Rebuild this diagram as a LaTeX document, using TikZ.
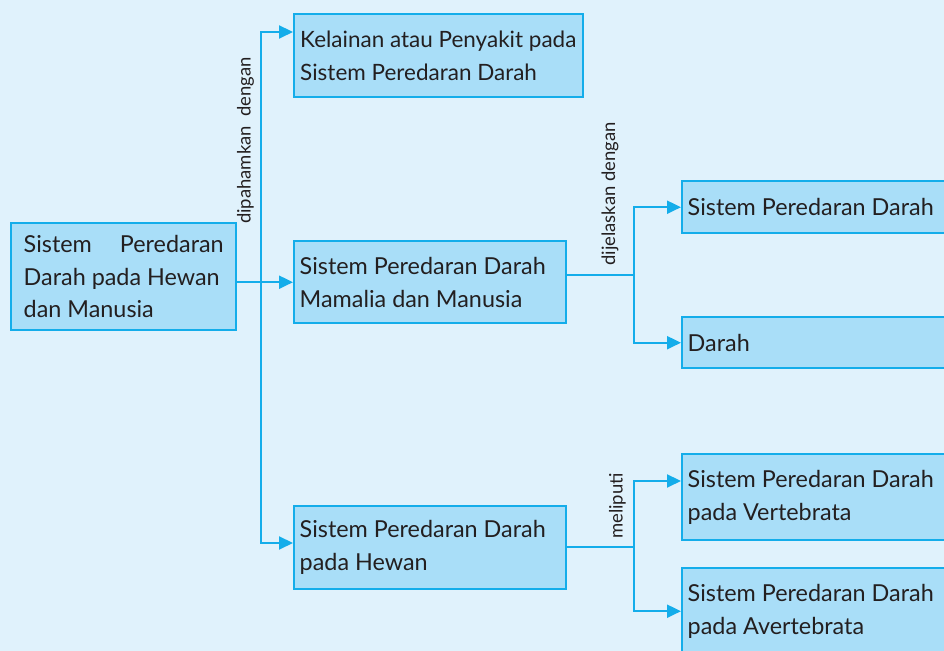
\documentclass[tikz,border=0pt]{standalone}
\usepackage{fontspec}
\setmainfont{Lato}
\usepackage{tikz}
\usetikzlibrary{arrows.meta, calc, positioning}
\usepackage{xcolor}
\definecolor{Bg}     {HTML}{E0F2FC}
\definecolor{Cyan}   {HTML}{14ADEA}
\definecolor{CyanF}  {HTML}{A9DEF8}
\definecolor{Ink}    {HTML}{231F20}
\tikzset{
  blk/.style args={#1/#2}{
    rectangle, anchor=north west,
    draw=Cyan, fill=CyanF, text=Ink,
    font=\fontsize{13.3}{18.6}\selectfont, align=flush left,
    inner xsep=0.11cm, inner ysep=0pt,
    minimum width=#1cm, minimum height=#2cm,
    text width=#1cm-0.22cm,
    line width=1.4pt,
  },
  arr/.style={
    -{Triangle[length=0.28cm,width=0.26cm]},
    line width=1.2pt, color=Cyan,
  },
  lnk/.style={
    line width=1.2pt, color=Cyan,
  },
  lbl/.style={
    font=\fontsize{10.5}{12}\selectfont, text=Ink,
    inner sep=0pt, rotate=90,
  },
}
\begin{document}
\begin{tikzpicture}[x=0.02cm,y=-0.02cm]
    \useasboundingbox (0,0) rectangle (944,651);
    \clip (0,0) rectangle (944,651);
    \fill[Bg] (0,0) rectangle (944,651);
    % boxes
    \node[blk=4.5/2.14, inner xsep=0.25cm, text width=4.0cm] (root) at (10,222)
        {Sistem\hfill Peredaran\\Darah pada Hewan\\dan Manusia};
    \node[blk=5.78/1.66, inner xsep=0.12cm, text width=5.54cm,
          font=\fontsize{12.8}{18.6}\selectfont] (kel) at (293,13)
        {\mbox{Kelainan atau Penyakit pada}\\Sistem Peredaran Darah};
    \node[blk=5.44/1.64] (mam)  at (293,240) {Sistem Peredaran Darah\\Mamalia dan Manusia};
    \node[blk=5.44/1.66] (hew)  at (293,505) {Sistem Peredaran Darah\\pada Hewan};
    \node[blk=6.4/1.04]  (spd)  at (681,180) {Sistem Peredaran Darah};
    \node[blk=6.4/1.02]  (drh)  at (681,316) {Darah};
    \node[blk=6.4/1.72]  (vert) at (681,453) {Sistem Peredaran Darah\\pada Vertebrata};
    \node[blk=6.4/1.72]  (avert) at (681,567) {Sistem Peredaran Darah\\pada Avertebrata};
    % connectors
    \coordinate (jtop) at (261,32);
    \coordinate (jbot) at (261,543);
    \coordinate (jm) at (634,275);
    \coordinate (jh) at (634,547);
    \draw[arr] (root.east |- mam.west) -- (mam.west);
    \draw[arr] (jbot) |- ([yshift=-0.38cm]kel.north west);
    \draw[arr] (jtop) |- (hew.west |- jbot);
    \draw[lnk] (mam.east |- jm) -- (jm);
    \draw[arr] (jm) |- (spd.west);
    \draw[arr] (jm) |- (drh.west);
    \draw[lnk] (hew.east |- jh) -- (jh);
    \draw[arr] (jh) |- ([yshift=-0.56cm]vert.north west);
    \draw[arr] (jh) |- (avert.west);
    % labels
    \node[lbl] (l1) at (245.5,140.5) {dipahamkan\ \ dengan};
    \node[lbl] (l2) at (610,194)     {dijelaskan dengan};
    \node[lbl] (l3) at (617.5,506)   {meliputi};
  \end{tikzpicture}
\end{document}
